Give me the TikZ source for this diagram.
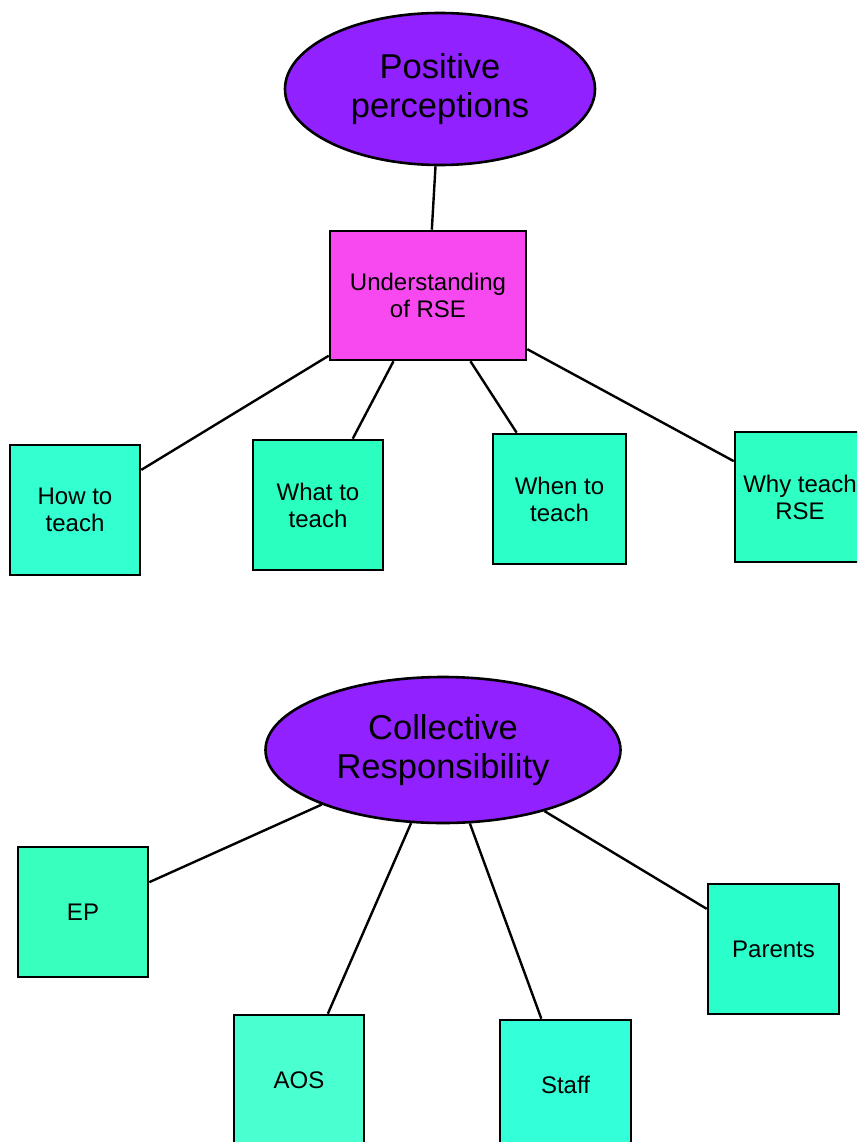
\documentclass[tikz,border=0pt]{standalone}
\usepackage{fontspec}
\setmainfont{Liberation Sans}
\usetikzlibrary{shapes.geometric}
\definecolor{topicpurple}{HTML}{9121FF}
\definecolor{hubpink}{HTML}{F848F0}
\definecolor{leafA}{HTML}{33FFD0}
\definecolor{leafB}{HTML}{2BFFC0}
\definecolor{leafC}{HTML}{2CFFC8}
\definecolor{leafD}{HTML}{2EFFC2}
\definecolor{leafE}{HTML}{38FFBD}
\definecolor{leafF}{HTML}{4AFFD0}
\definecolor{leafG}{HTML}{33FFD8}
\definecolor{leafH}{HTML}{2AFFCC}
\tikzset{
  topic/.style={ellipse, draw=black, line width=2.6pt, fill=topicpurple, inner sep=0pt,
    align=center, font=\fontsize{34.5}{39}\selectfont},
  hubbox/.style={rectangle, draw=black, line width=2.6pt, fill=hubpink, inner sep=0pt,
    align=center, font=\fontsize{24}{27}\selectfont},
  leaf/.style={rectangle, draw=black, line width=2.6pt, inner sep=0pt,
    minimum width=130pt, minimum height=130pt,
    align=center, font=\fontsize{24}{27}\selectfont},
  link/.style={draw=black, line width=2.4pt}
}
\begin{document}
\begin{tikzpicture}[x=1pt,y=-1pt]
\useasboundingbox (0,0) rectangle (857,1142);
\clip (0,0) rectangle (857,1142);
\fill[white] (0,0) rectangle (857,1142);

% upper map
\node[topic, minimum width=310pt, minimum height=152pt] (pos) at (440,89) {Positive\\perceptions};
\node[hubbox, minimum width=196pt, minimum height=129pt] (rse) at (428,295.5) {Understanding\\of RSE};
\node[leaf, fill=leafA] (how) at (75,510) {How to\\teach};
\node[leaf, fill=leafB] (what) at (318,505) {What to\\teach};
\node[leaf, fill=leafC, minimum width=133pt] (when) at (559.5,499) {When to\\teach};
\node[leaf, fill=leafD] (why) at (800,497) {Why teach\\RSE};

\draw[link] (pos) -- (rse);
\draw[link] (rse) -- (how);
\draw[link] (rse) -- (what);
\draw[link] (rse) -- (when);
\draw[link] (rse) -- (why);

% lower map
\node[topic, minimum width=355pt, minimum height=146pt] (col) at (443,750) {Collective\\Responsibility};
\node[leaf, fill=leafE] (ep) at (83,912) {EP};
\node[leaf, fill=leafF] (aos) at (299,1080) {AOS};
\node[leaf, fill=leafG, minimum width=131pt] (staff) at (565.5,1085) {Staff};
\node[leaf, fill=leafH, minimum width=131pt] (parents) at (773.5,949) {Parents};

\draw[link] (col) -- (ep);
\draw[link] (col) -- (aos);
\draw[link] (col) -- (staff);
\draw[link] (col) -- (parents);
\end{tikzpicture}
\end{document}
